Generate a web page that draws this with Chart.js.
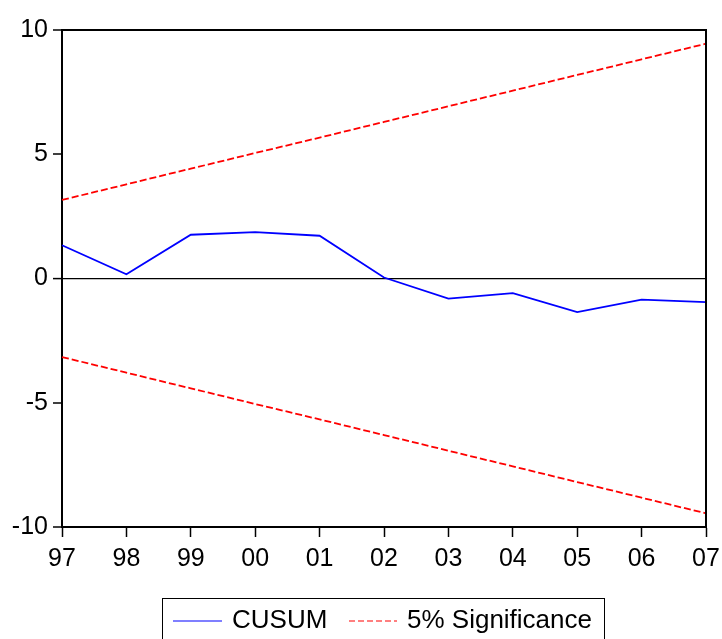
<!DOCTYPE html>
<html>
<head>
<meta charset="utf-8">
<script src="https://cdn.jsdelivr.net/npm/chart.js@4.4.1/dist/chart.umd.min.js"></script>
<style>
html,body{margin:0;padding:0;background:#fff;}
#wrap{width:722px;height:639px;position:relative;}
</style>
</head>
<body>
<div id="wrap"><canvas id="c" width="722" height="639"></canvas></div>
<script>
const categories = ['97','98','99','00','01','02','03','04','05','06','07'];
const cusum = [1.34, 0.17, 1.76, 1.87, 1.72, 0.04, -0.81, -0.59, -1.35, -0.85, -0.95];
const upperBound = [3.16, 3.79, 4.42, 5.05, 5.67, 6.30, 6.93, 7.56, 8.19, 8.82, 9.45];
const lowerBound = [-3.16, -3.79, -4.42, -5.05, -5.67, -6.30, -6.93, -7.56, -8.19, -8.82, -9.45];
const seriesNames = ['CUSUM', '5% Significance'];

const FONT = "'Liberation Sans', Arial, sans-serif";

const framePlugin = {
  id: 'frame',
  afterDatasetsDraw(chart) {
    const {ctx, chartArea: a} = chart;
    ctx.save();
    ctx.strokeStyle = '#000';
    ctx.lineWidth = 2;
    ctx.beginPath();
    ctx.moveTo(a.left, a.top);
    ctx.lineTo(a.right, a.top);
    ctx.lineTo(a.right, a.bottom);
    ctx.stroke();
    ctx.restore();
  },
  afterDraw(chart) {
    const ctx = chart.ctx;
    ctx.save();
    ctx.strokeStyle = '#000';
    ctx.lineWidth = 1;
    ctx.strokeRect(162.5, 598.5, 442, 60);
    const y = 621;
    ctx.lineWidth = 1.2;
    ctx.strokeStyle = '#0000FF';
    ctx.beginPath(); ctx.moveTo(173, y); ctx.lineTo(222, y); ctx.stroke();
    ctx.strokeStyle = '#FF0000';
    ctx.setLineDash([6, 3]);
    ctx.beginPath(); ctx.moveTo(349, y); ctx.lineTo(397, y); ctx.stroke();
    ctx.setLineDash([]);
    ctx.fillStyle = '#000';
    ctx.font = '26px ' + FONT;
    ctx.textBaseline = 'middle';
    ctx.fillText(seriesNames[0], 232, y);
    ctx.fillText(seriesNames[1], 407, y);
    ctx.restore();
  }
};

new Chart(document.getElementById('c'), {
  type: 'line',
  data: {
    labels: categories,
    datasets: [
      {label: seriesNames[0], data: cusum, borderColor: '#0000FF', borderWidth: 1.8, pointRadius: 0, tension: 0, fill: false},
      {label: seriesNames[1], data: upperBound, borderColor: '#FF0000', borderWidth: 1.8, borderDash: [7, 3], pointRadius: 0, tension: 0, fill: false},
      {label: seriesNames[1] + ' ', data: lowerBound, borderColor: '#FF0000', borderWidth: 1.8, borderDash: [7, 3], pointRadius: 0, tension: 0, fill: false}
    ]
  },
  options: {
    responsive: false,
    animation: false,
    devicePixelRatio: 1,
    layout: {padding: {left: 0, right: 16, top: 30, bottom: 72}},
    plugins: {legend: {display: false}, tooltip: {enabled: false}},
    scales: {
      x: {
        type: 'category',
        offset: false,
        afterFit(s) { s.height = 40; s.paddingRight = 0; s.paddingLeft = 0; },
        border: {display: true, color: '#000', width: 2},
        grid: {drawOnChartArea: false, drawTicks: true, tickLength: 10, tickColor: '#000', tickWidth: 1.5},
        ticks: {color: '#000', font: {family: FONT, size: 25}, padding: 7, maxRotation: 0, autoSkip: false}
      },
      y: {
        min: -10, max: 10,
        afterFit(s) { s.width = 62; s.paddingTop = 0; s.paddingBottom = 0; },
        border: {display: true, color: '#000', width: 2},
        grid: {
          drawOnChartArea: true,
          drawTicks: true,
          tickLength: 9,
          tickColor: '#000',
          tickWidth: 1.5,
          color: (c) => (c.tick && c.tick.value === 0) ? '#000' : 'rgba(0,0,0,0)',
          lineWidth: (c) => (c.tick && c.tick.value === 0) ? 1.2 : 0
        },
        ticks: {stepSize: 5, color: '#000', font: {family: FONT, size: 25}, padding: 5}
      }
    }
  },
  plugins: [framePlugin]
});
</script>
</body>
</html>
